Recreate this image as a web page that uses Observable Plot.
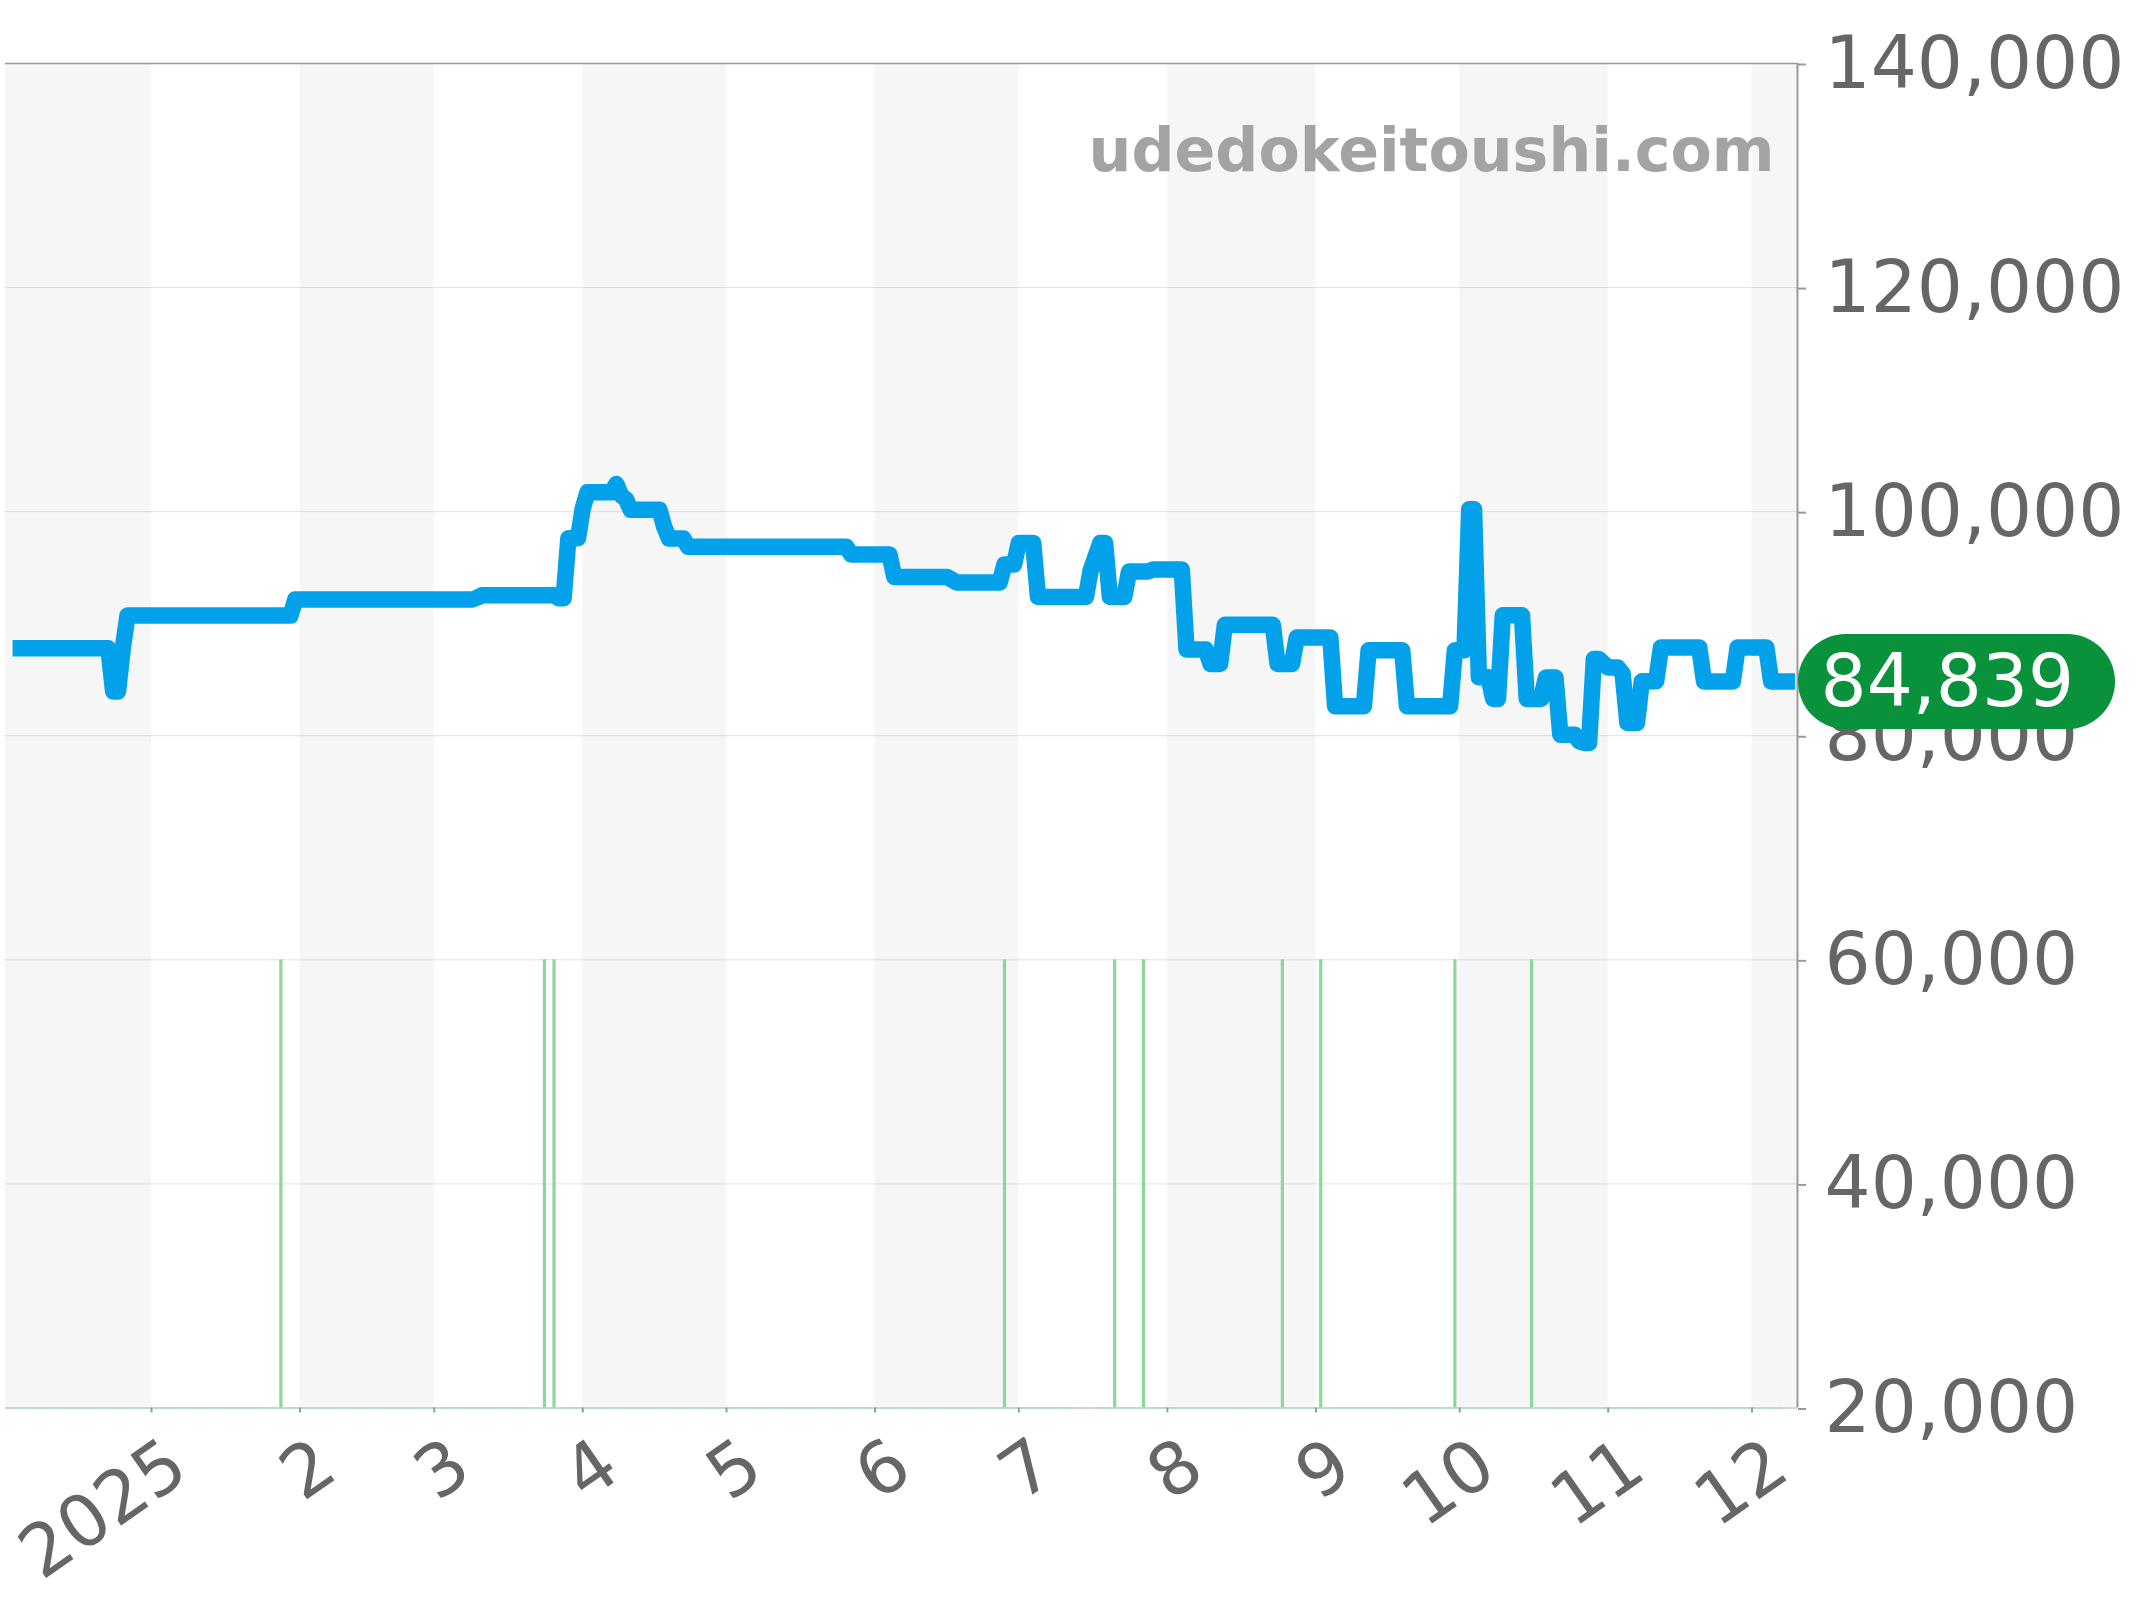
<!DOCTYPE html>
<html><head><meta charset="utf-8">
<style>html,body{margin:0;padding:0;background:#fff}</style>
<script src="https://cdn.jsdelivr.net/npm/d3@7"></script>
<script src="https://cdn.jsdelivr.net/npm/@observablehq/plot@0.6"></script>
</head><body>
<div id="chart"></div>
<script>
const lineDates = ["2024-12-03","2024-12-23","2024-12-24","2024-12-25","2024-12-26","2024-12-27","2025-01-30","2025-01-31","2025-03-09","2025-03-10","2025-03-11","2025-03-26","2025-03-27","2025-03-28","2025-03-29","2025-03-31","2025-04-01","2025-04-02","2025-04-07","2025-04-08","2025-04-09","2025-04-10","2025-04-11","2025-04-17","2025-04-18","2025-04-19","2025-04-22","2025-04-23","2025-05-26","2025-05-27","2025-06-04","2025-06-05","2025-06-16","2025-06-18","2025-06-27","2025-06-28","2025-06-30","2025-07-01","2025-07-04","2025-07-05","2025-07-15","2025-07-16","2025-07-18","2025-07-19","2025-07-20","2025-07-23","2025-07-24","2025-07-28","2025-07-29","2025-08-04","2025-08-05","2025-08-09","2025-08-10","2025-08-12","2025-08-13","2025-08-23","2025-08-24","2025-08-27","2025-08-28","2025-09-04","2025-09-05","2025-09-11","2025-09-12","2025-09-19","2025-09-20","2025-09-29","2025-09-30","2025-10-02","2025-10-03","2025-10-04","2025-10-05","2025-10-07","2025-10-08","2025-10-09","2025-10-10","2025-10-14","2025-10-15","2025-10-18","2025-10-19","2025-10-21","2025-10-22","2025-10-25","2025-10-26","2025-10-27","2025-10-28","2025-10-29","2025-10-30","2025-11-01","2025-11-03","2025-11-04","2025-11-05","2025-11-07","2025-11-08","2025-11-11","2025-11-12","2025-11-20","2025-11-21","2025-11-27","2025-11-28","2025-12-04","2025-12-05","2025-12-10"];
const linePrices = [87800,87800,83950,83950,87800,90730,90730,92160,92160,92340,92540,92540,92270,92270,97630,97630,100310,101740,101740,102460,101470,101110,100160,100160,98640,97600,97600,96860,96860,96180,96180,94180,94180,93680,93680,95280,95280,97210,97210,92390,92390,94780,97210,97210,92390,92390,94660,94660,94840,94840,87700,87700,86410,86410,89900,89900,86410,86410,88770,88770,82630,82630,87630,87630,82630,82630,87630,87630,100220,100220,85220,85220,83290,83290,90760,90760,83290,83290,85190,85190,80100,80100,79500,79360,79360,86860,86860,86090,86090,85550,81140,81140,84860,84860,87870,87870,84839,84839,87870,87870,84839,84839];
const saleDates = ["2025-01-28","2025-03-24","2025-03-26","2025-06-28","2025-07-21","2025-07-27","2025-08-25","2025-09-02","2025-09-30","2025-10-16"];
const monthTicks = ["2025-01-01","2025-02-01","2025-03-01","2025-04-01","2025-05-01","2025-06-01","2025-07-01","2025-08-01","2025-09-01","2025-10-01","2025-11-01","2025-12-01"];
const monthLabels = ["2025","2","3","4","5","6","7","8","9","10","11","12"];
const yTicks = [20000,40000,60000,80000,100000,120000,140000];
const shadeStarts = ["2024-12-01T12:40Z","2025-02-01","2025-04-01","2025-06-01","2025-08-01","2025-10-01","2025-12-01"];
const shadeEnds = ["2025-01-01","2025-03-01","2025-05-01","2025-07-01","2025-09-01","2025-11-01","2025-12-10T12:00Z"];
const baseStarts = ["2024-12-01T12:40Z","2025-07-14T12:00Z","2025-07-17T12:00Z"];
const baseEnds = ["2025-07-13T10:00Z","2025-07-15T12:00Z","2025-12-07T10:00Z"];
const latest = 84839;
const saleTop = 60000, floor = 20000;
const watermark = "udedokeitoushi.com";

const xMin = new Date("2024-12-01T12:40Z"), xMax = new Date("2025-12-10T12:00Z");
const pillEnd = new Date("2026-01-25T20:00Z");
const fmt = d3.format(",");
const font = "DejaVu Sans";
const series = lineDates.map((d,i)=>({date:new Date(d),price:linePrices[i]}));
const shades = shadeStarts.map((d,i)=>({a:new Date(d),b:new Date(shadeEnds[i])}));
const bases = baseStarts.map((d,i)=>({a:new Date(d),b:new Date(baseEnds[i])}));
const ticks = monthTicks.map((d,i)=>({date:new Date(d),label:monthLabels[i]}));
const sales = saleDates.map(d=>new Date(d));

const chart = Plot.plot({
  width:2144, height:1600,
  marginLeft:5, marginRight:347, marginTop:63, marginBottom:192.5,
  style:{background:"#fff",fontFamily:font},
  x:{type:"utc",domain:[xMin,xMax],axis:null},
  y:{domain:[floor,140000],axis:null},
  marks:[
    Plot.rectY(shades,{x1:"a",x2:"b",y1:floor,y2:140000,fill:"#f6f6f6"}),
    Plot.ruleY(yTicks.slice(1,-1),{x1:xMin,x2:xMax,stroke:"#000",strokeOpacity:0.12,strokeWidth:1}),
    Plot.ruleY([floor],{x1:xMin,x2:xMax,stroke:"#c8c8c8",strokeWidth:1.5}),
    Plot.ruleX(sales,{y1:floor,y2:saleTop,stroke:"#8fd69b",strokeWidth:3.2}),
    Plot.ruleY(bases,{y:()=>floor,x1:"a",x2:"b",stroke:"#a9dfb4",strokeWidth:1.5,strokeDasharray:"4,1"}),
    Plot.line(series,{x:"date",y:"price",stroke:"#02a1e9",strokeWidth:16.5,strokeLinejoin:"round",strokeLinecap:"butt",curve:"linear"}),
    Plot.ruleX([xMax],{y1:floor,y2:140000,stroke:"#999",strokeWidth:2}),
    Plot.axisY({anchor:"right",ticks:yTicks,tickFormat:fmt,tickSize:8,tickPadding:19,fontSize:72.5,fontFamily:font,stroke:"#999",strokeWidth:2,fill:"#666",label:null,dy:1}),
    Plot.ruleY([140000],{x1:xMin,x2:xMax,stroke:"#999",strokeWidth:1.5}),
    Plot.axisX({anchor:"bottom",ticks:monthTicks.map(d=>new Date(d)),tickFormat:()=>"",tickSize:5,stroke:"#999",strokeWidth:2,label:null}),
    Plot.text(ticks,{x:"date",y:()=>floor,text:"label",rotate:-35,textAnchor:"end",lineAnchor:"middle",fontSize:72,fontFamily:font,fill:"#666",dx:27,dy:49}),
    Plot.text([watermark],{frameAnchor:"top-right",dx:-23,dy:107,lineAnchor:"bottom",fontSize:60.2,fontWeight:"bold",fontFamily:font,fill:"#a3a3a3"}),
    Plot.ruleY([latest],{x1:()=>xMax,x2:()=>pillEnd,dx:48.5,stroke:"#09913b",strokeWidth:95,strokeLinecap:"round"}),
    Plot.text([latest],{x:()=>xMax,y:d=>d,text:d=>fmt(d),dx:23,dy:1,textAnchor:"start",fontSize:72.5,fontFamily:font,fill:"#fff"})
  ]
});
document.getElementById("chart").appendChild(chart);
</script>
</body></html>
